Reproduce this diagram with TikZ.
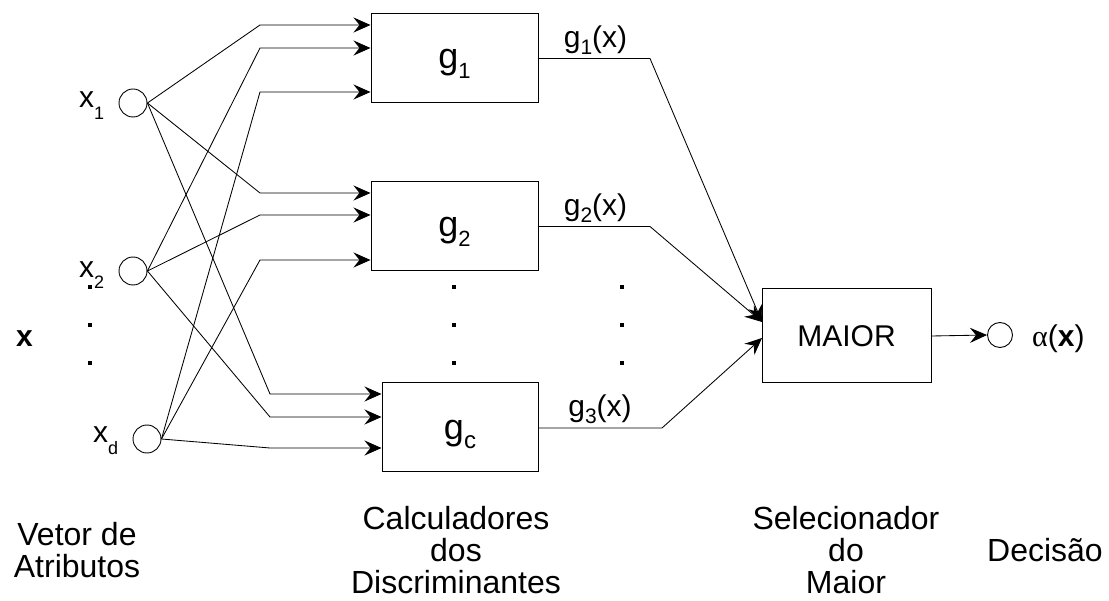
\documentclass[tikz,border=0pt]{standalone}
\usepackage{fontspec}
\setmainfont{Liberation Sans}
\newfontfamily\grk{Liberation Serif}
\usetikzlibrary{arrows.meta,calc}

% lowered subscript: #1 drop, #2 size, #3 text
\newcommand\lowsub[3]{\raisebox{-#1}{\fontsize{#2}{#2}\selectfont #3}}

\tikzset{
  wire/.style={line width=0.85pt},
  arr/.style={wire,-{Stealth[length=17pt,width=15pt,inset=6pt]}},
  unit/.style={draw,line width=1pt,rectangle,inner sep=0pt},
  port/.style={draw,line width=0.9pt,circle,inner sep=0pt,minimum size=28pt},
  lbl/.style={inner sep=0pt,anchor=base,font=\fontsize{30}{34}\selectfont},
  boxlbl/.style={inner sep=0pt,anchor=base,font=\fontsize{36}{40}\selectfont},
  caption/.style={inner sep=0pt,anchor=base,align=center,font=\fontsize{32}{32}\selectfont},
}

\begin{document}
\begin{tikzpicture}[x=1pt,y=-1pt]
\useasboundingbox (0,0) rectangle (1109,601);

% input ports
\node[port] (x1) at (133,103) {};
\node[port] (x2) at (133,271) {};
\node[port] (xd) at (147,439) {};
\node[lbl,anchor=base west] (lx1) at (79,108) {x\lowsub{12pt}{18}{1}};
\node[lbl,anchor=base west] (lx2) at (79,278) {x\lowsub{11pt}{18}{2}};
\node[lbl,anchor=base west] (lxd) at (93,443) {x\lowsub{12pt}{18}{d}};
\node[lbl,anchor=base west] (lx) at (16,347) {\textbf{x}};
\foreach \yy in {287,325,363} \fill (88,\yy-2) rectangle +(4,4);

% discriminant units
\node[unit,minimum width=167pt,minimum height=89pt] (g1) at (454.5,58.5) {};
\node[unit,minimum width=167pt,minimum height=89pt] (g2) at (454.5,226.5) {};
\node[unit,minimum width=156pt,minimum height=89pt] (gc) at (460,427.5) {};
\node[boxlbl] (tg1) at (454.5,69) {g\lowsub{10pt}{22}{1}};
\node[boxlbl] (tg2) at (454.5,237) {g\lowsub{10pt}{22}{2}};
\node[boxlbl] (tgc) at (460,440) {g\lowsub{9pt}{24}{c}};
\foreach \xx in {454,622} \foreach \yy in {287,325,363} \fill (\xx-2,\yy-2) rectangle +(4,4);

% selector and output
\node[unit,minimum width=169pt,minimum height=94pt] (mx) at (846.5,336) {};
\node[lbl] (tmx) at (846.5,347) {MAIOR};
\node[port,minimum size=25pt] (out) at (1000,335) {};
\node[lbl,anchor=base west] (talpha) at (1032,347) {{\grk α}(\textbf{x})};

% junction points in front of the units
\coordinate (a1) at (260,25);  \coordinate (a2) at (260,48);  \coordinate (a3) at (260,92);
\coordinate (b1) at (260,193); \coordinate (b2) at (260,215); \coordinate (b3) at (260,260);
\coordinate (c1) at (270,394); \coordinate (c2) at (270,417); \coordinate (c3) at (270,448);

\draw[arr] (x1.east) -- (a1) -- (g1.west |- a1);
\draw[arr] (x1.east) -- (b1) -- (g2.west |- b1);
\draw[arr] (x1.east) -- (c1) -- (gc.west |- c1);
\draw[arr] (x2.east) -- (a2) -- (g1.west |- a2);
\draw[arr] (x2.east) -- (b2) -- (g2.west |- b2);
\draw[arr] (x2.east) -- (c2) -- (gc.west |- c2);
\draw[arr] (xd.east) -- (a3) -- (g1.west |- a3);
\draw[arr] (xd.east) -- (b3) -- (g2.west |- b3);
\draw[arr] (xd.east) -- (c3) -- (gc.west |- c3);

% discriminant outputs
\coordinate (o1) at (650,58.5);
\coordinate (o2) at (650,226.5);
\coordinate (o3) at (662,428);
\coordinate (m1) at (762,322);
\coordinate (m3) at (762,338);
\draw[arr] (g1.east) -- (o1) -- (m1);
\draw[arr] (g2.east) -- (o2) -- (m1);
\draw[arr] (gc.east |- o3) -- (o3) -- (m3);
\node[lbl] (tg1x) at (595.5,48) {g\lowsub{7pt}{21}{1}(x)};
\node[lbl] (tg2x) at (595.5,216) {g\lowsub{7pt}{21}{2}(x)};
\node[lbl] (tg3x) at (600,417) {g\lowsub{7pt}{21}{3}(x)};

\draw[arr] (mx.east) -- (out.west);

% captions (base anchor sits on the last line)
\node[caption] (cap1) at (77,577) {Vetor de\\Atributos};
\node[caption] (cap2) at (456,593) {Calculadores\\dos\\Discriminantes};
\node[caption] (cap3) at (846,593) {Selecionador\\do\\Maior};
\node[caption] (cap4) at (1045,561) {Decisão};
\end{tikzpicture}
\end{document}
